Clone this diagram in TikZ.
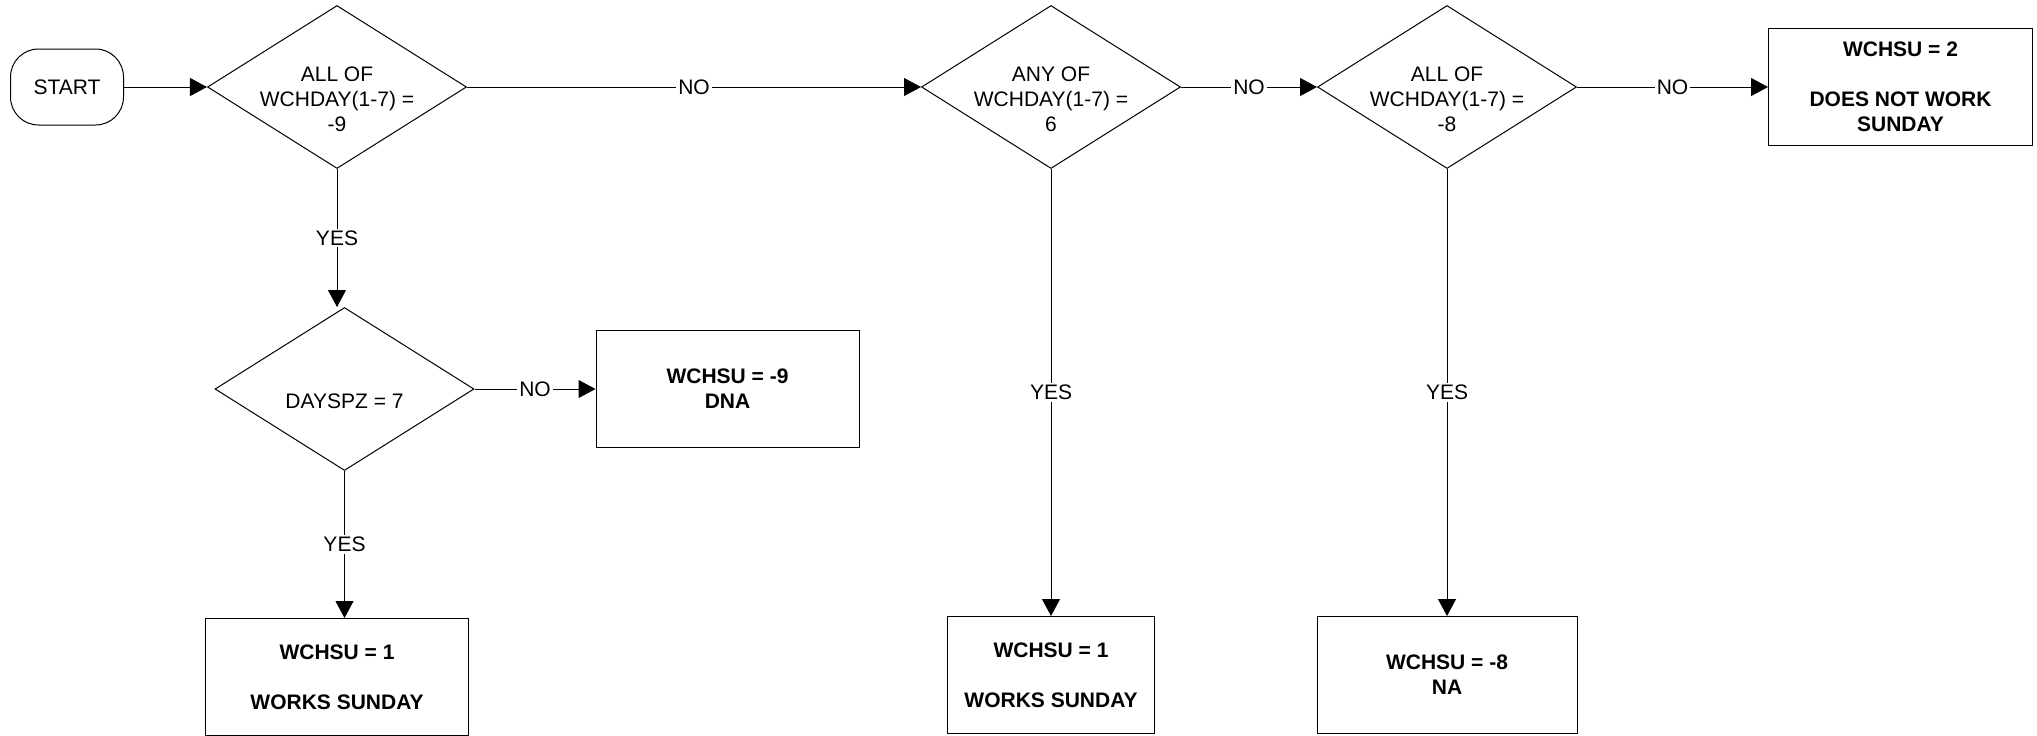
\documentclass[tikz,border=0pt]{standalone}
\usepackage{fontspec}
\setmainfont{Liberation Sans}
\usetikzlibrary{arrows.meta,positioning,shapes.geometric}

\begin{document}
\begin{tikzpicture}[
    node distance=40pt and 40pt,
    font=\fontsize{10.5}{12.5}\selectfont,
    terminal/.style={rectangle, draw, rounded corners=14pt, minimum width=56.5pt,
                     minimum height=38pt, line width=0.5pt},
    decision/.style={diamond, draw, minimum width=129.5pt, minimum height=81.5pt,
                     inner sep=0pt, line width=0.5pt},
    dtext/.style={align=center, yshift=-6pt},
    result/.style={rectangle, draw, minimum width=131.5pt, minimum height=58.5pt,
                   align=center, font=\fontsize{10.5}{12.5}\selectfont\bfseries,
                   line width=0.5pt},
    arrow/.style={-{Triangle[length=8.5pt,width=9pt]}, line width=0.5pt},
    answer/.style={fill=white, inner sep=1pt}
]
\useasboundingbox (0,0) rectangle (1018.5pt,-367.5pt);

\node[terminal] (start) at (33.5pt,-43.5pt) {START};
\node[decision, right=41.5pt of start,
      label={[dtext]center:{ALL OF\\WCHDAY(1-7) =\\-9}}] (d1) {};
\node[decision, right=227pt of d1,
      label={[dtext]center:{ANY OF\\WCHDAY(1-7) =\\6}}] (d2) {};
\node[decision, right=68pt of d2,
      label={[dtext]center:{ALL OF\\WCHDAY(1-7) =\\-8}}] (d3) {};
\node[result, right=95.5pt of d3, minimum width=132pt] (r2) {WCHSU = 2\\[12.5pt]DOES NOT WORK\\SUNDAY};

\node[decision, below=69pt of d1, xshift=3.75pt,
      label={[dtext]center:{DAYSPZ = 7}}] (d4) {};
\node[result, right=60.5pt of d4] (r9) {WCHSU = -9\\DNA};
\node[result, below=73.5pt of d4, xshift=-3.75pt] (w1) {WCHSU = 1\\[12.5pt]WORKS SUNDAY};

\node[result, below=223.5pt of d2, minimum width=103.5pt] (w2) {WCHSU = 1\\[12.5pt]WORKS SUNDAY};
\node[result, below=223.5pt of d3, minimum width=130pt] (r8) {WCHSU = -8\\NA};

% main line
\draw[arrow] (start) -- (d1);
\draw[arrow] (d1.east) -- node[answer] (no1) {NO} (d2.west);
\draw[arrow] (d2.east) -- node[answer] (no2) {NO} (d3.west);
\draw[arrow] (d3.east) -- node[answer] (no3) {NO} (r2.west);

% yes branches
\draw[arrow] (d1.south) -- node[answer] (yes1) {YES} (d1.south |- d4.north);
\draw[arrow] (d4.east) -- node[answer] (no4) {NO} (r9.west);
\draw[arrow] (d4.south) -- node[answer] (yes4) {YES} (d4.south |- w1.north);
\draw[arrow] (d2.south) -- node[answer] (yes2) {YES} (w2.north);
\draw[arrow] (d3.south) -- node[answer] (yes3) {YES} (r8.north);
\end{tikzpicture}
\end{document}
